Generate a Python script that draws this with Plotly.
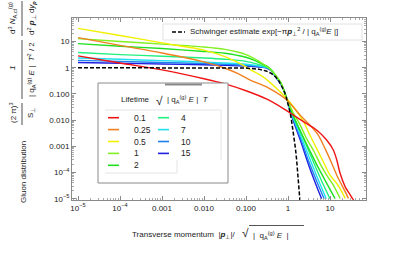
import plotly.graph_objects as go

# ---------------- data ----------------
lifetimes = ["0.1", "0.25", "0.5", "1", "2", "4", "7", "10", "15"]
colors = ["#f01414", "#f08020", "#f0f000", "#80f020", "#20e020",
          "#20f080", "#20e0f0", "#2080f0", "#2020e0"]

x_t01 = [1e-5, 1e-4, 1e-3, 1e-2, 0.0316, 0.1, 0.316, 0.794, 1.35, 2.34, 4.79, 8.32, 12.0, 14.5, 17.4, 22.9, 30.2, 36.3]
y_t01 = [2.82, 1.51, 0.83, 0.38, 0.24, 0.132, 0.063, 0.027, 0.0155, 0.0087, 0.0042, 0.00174, 7.2e-4, 3.0e-4, 9.3e-5, 2.9e-5, 1.4e-5, 8.9e-6]

x_t025 = [1e-5, 1e-4, 1e-3, 1e-2, 0.0316, 0.063, 0.126, 0.316, 0.646, 0.933, 1.95, 3.31, 5.25, 7.59, 11.0, 14.5, 19.1, 22.9, 27.5]
y_t025 = [14.1, 7.08, 3.63, 1.66, 0.955, 0.603, 0.339, 0.182, 0.0912, 0.0589, 0.0155, 0.00646, 0.00269, 8.3e-4, 2.24e-4, 7.9e-5, 3.3e-5, 1.86e-5, 1.02e-5]

x_t05 = [1e-5, 1e-4, 1e-3, 1e-2, 0.0316, 0.063, 0.1, 0.126, 0.251, 0.537, 0.851, 1.35, 2.34, 3.31, 4.79, 6.92, 10.0, 14.5, 19.1, 22.9]
y_t05 = [31.6, 17.0, 8.9, 4.68, 2.63, 1.58, 1.07, 0.85, 0.457, 0.162, 0.0776, 0.0324, 0.0087, 0.00269, 8.3e-4, 2.57e-4, 7.9e-5, 3.8e-5, 1.86e-5, 1.02e-5]

x_t1 = [1e-5, 1e-4, 1e-3, 1e-2, 0.0316, 0.063, 0.1, 0.158, 0.251, 0.355, 0.5, 0.708, 0.933, 1.35, 1.95, 2.75, 3.98, 5.75, 8.32, 12.0, 17.4]
y_t1 = [12.9, 10.0, 7.94, 6.17, 5.01, 3.98, 3.16, 2.24, 1.41, 0.955, 0.525, 0.229, 0.0676, 0.0182, 0.00646, 0.0020, 7.2e-4, 2.24e-4, 7.9e-5, 3.3e-5, 1.02e-5]

x_t2 = [1e-5, 1e-4, 1e-3, 1e-2, 0.0316, 0.063, 0.1, 0.158, 0.251, 0.355, 0.5, 0.708, 0.933, 1.35, 2.0, 3.16, 5.01, 7.94, 13.2]
y_t2 = [8.32, 6.61, 5.37, 4.17, 3.55, 2.95, 2.51, 1.91, 1.35, 1.0, 0.525, 0.229, 0.0676, 0.0141, 0.00355, 7.9e-4, 1.78e-4, 4.5e-5, 1.0e-5]

x_t4 = [1e-5, 1e-4, 1e-3, 1e-2, 0.0316, 0.1, 0.2, 0.316, 0.398, 0.5, 0.708, 0.933, 1.26, 2.0, 3.16, 5.01, 7.08, 10.0]
y_t4 = [3.8, 3.16, 2.75, 2.34, 2.09, 1.74, 1.32, 1.05, 0.83, 0.50, 0.219, 0.0676, 0.0178, 0.00355, 6.3e-4, 1.12e-4, 3.2e-5, 1.0e-5]

x_t7 = [1e-5, 1e-4, 1e-3, 1e-2, 0.0316, 0.1, 0.2, 0.316, 0.398, 0.5, 0.708, 0.933, 1.26, 2.0, 3.16, 5.01, 8.13]
y_t7 = [2.34, 2.09, 1.86, 1.66, 1.51, 1.35, 1.17, 1.0, 0.794, 0.479, 0.214, 0.0676, 0.0158, 0.00251, 4.0e-4, 6.3e-5, 1.0e-5]

x_t10 = [1e-5, 1e-4, 1e-3, 1e-2, 0.0316, 0.1, 0.2, 0.316, 0.398, 0.5, 0.708, 0.933, 1.26, 2.0, 3.16, 5.01, 7.24]
y_t10 = [1.91, 1.74, 1.58, 1.45, 1.35, 1.23, 1.12, 0.977, 0.794, 0.468, 0.209, 0.0676, 0.0141, 0.0020, 2.5e-4, 4.0e-5, 1.0e-5]

x_t15 = [1e-5, 1e-4, 1e-3, 1e-2, 0.0316, 0.1, 0.2, 0.316, 0.398, 0.5, 0.708, 0.933, 1.26, 2.0, 3.16, 5.01, 6.31]
y_t15 = [1.58, 1.48, 1.38, 1.29, 1.23, 1.15, 1.07, 0.955, 0.759, 0.457, 0.204, 0.0661, 0.0126, 0.00158, 1.78e-4, 2.5e-5, 1.0e-5]

x_schw = [1e-5, 1e-3, 0.01, 0.1, 0.2, 0.3, 0.4, 0.5, 0.6, 0.7, 0.8, 0.9, 1.0, 1.1, 1.2, 1.3, 1.4, 1.5, 1.6, 1.7, 1.8, 1.87, 1.95]
y_schw = [1.0, 1.0, 1.0, 0.969, 0.882, 0.754, 0.605, 0.456, 0.323, 0.215, 0.134, 0.0786, 0.0432, 0.0223, 0.0109, 0.00495, 0.0021, 8.5e-4, 3.2e-4, 1.1e-4, 3.8e-5, 1.7e-5, 6.5e-6]

tick_vals = [1e-5, 1e-4, 1e-3, 1e-2, 1e-1, 1, 10]
tick_text = ["10<sup>\u22125</sup>", "10<sup>\u22124</sup>", "0.001", "0.010", "0.100", "1", "10"]

series_x = [x_t01, x_t025, x_t05, x_t1, x_t2, x_t4, x_t7, x_t10, x_t15]
series_y = [y_t01, y_t025, y_t05, y_t1, y_t2, y_t4, y_t7, y_t10, y_t15]

# ---------------- figure ----------------
W, H = 411, 254
L, R, T, B = 72, 366, 18, 200
FONT = "Liberation Sans, Arial, sans-serif"
TXT = "#222222"
FRAME = "#8a8a8a"
FS = 8


def px(x):
    return (x - L) / (R - L)


def py(y):
    return (B - y) / (B - T)


fig = go.Figure()
for i in range(len(lifetimes) - 1, -1, -1):
    fig.add_trace(go.Scatter(
        x=series_x[i], y=series_y[i], mode="lines",
        line=dict(color=colors[i], width=1.4, shape="spline", smoothing=0.8),
        showlegend=False, hoverinfo="skip"))
fig.add_trace(go.Scatter(
    x=x_schw, y=y_schw, mode="lines",
    line=dict(color="black", width=1.5, dash="4px,2px"),
    showlegend=False, hoverinfo="skip"))

minor_vals = [m * 10 ** e for e in range(-6, 3) for m in range(2, 10)]
axis_common = dict(
    type="log", showgrid=False, zeroline=False,
    showline=True, linecolor=FRAME, linewidth=1, mirror="allticks",
    ticks="inside", ticklen=4, tickwidth=1, tickcolor=FRAME,
    tickmode="array", tickvals=tick_vals, ticktext=tick_text,
    tickfont=dict(family=FONT, size=8, color=TXT),
    minor=dict(ticks="inside", ticklen=2, tickcolor="#aaaaaa", tickmode="array", tickvals=minor_vals),
)
fig.update_layout(
    width=W, height=H, autosize=False,
    margin=dict(l=L, r=W - R, t=T, b=H - B, pad=0),
    paper_bgcolor="white", plot_bgcolor="white",
    xaxis=dict(range=[-5.143, 1.857], automargin=False, **axis_common),
    yaxis=dict(range=[-5.05, 1.897], automargin=False, **axis_common),
    font=dict(family=FONT, color=TXT),
)

shapes = []
anns = []


def text(x, y, s, size=FS, angle=0, xa="left", ya="middle"):
    anns.append(dict(x=px(x), y=py(y), xref="paper", yref="paper", text=s,
                     showarrow=False, textangle=angle, xanchor=xa, yanchor=ya,
                     borderpad=0,
                     font=dict(family=FONT, size=size, color=TXT)))


def line(x0, y0, x1, y1, color, width=1, dash=None):
    d = dict(type="line", xref="paper", yref="paper", x0=px(x0), y0=py(y0),
             x1=px(x1), y1=py(y1), line=dict(color=color, width=width))
    if dash:
        d["line"]["dash"] = dash
    shapes.append(d)


# Schwinger legend box
shapes.append(dict(type="rect", xref="paper", yref="paper", x0=px(163), x1=px(362),
                   y0=py(40), y1=py(24), fillcolor="white", line=dict(color="#e2e2e2", width=1)))
line(172, 32, 185, 32, "black", 1.5, "4px,2px")
text(189, 32, "Schwinger estimate exp[\u2212\u03c0<b><i>p</i></b><sub>\u22a5</sub><sup>2</sup> / | q<sub>A</sub><sup>(g)</sup><i>E</i> |]")

# Lifetime legend box
shapes.append(dict(type="rect", xref="paper", yref="paper", x0=px(98), x1=px(228),
                   y0=py(183), y1=py(83), fillcolor="white", line=dict(color="#8a8a8a", width=1)))
shapes.append(dict(type="path", xref="paper", yref="paper",
                   path=f"M {px(105)},{py(110)} L {px(221)},{py(110)} L {px(221)},{py(160)} "
                        f"M {px(177)},{py(160)} L {px(177)},{py(173)} L {px(105)},{py(173)}",
                   line=dict(color="#e4e4e4", width=1)))
line(165, 84.5, 202, 84.5, "#8a8a8a", 2)
text(120, 99, "Lifetime")
text(155, 101, "\u221a", size=12)
text(166, 99, "| q<sub>A</sub><sup>(g)</sup> <i>E</i> |  <i>T</i>")

rows = [117.7, 129.6, 141.5, 153.4, 165.3]
for i, lab in enumerate(lifetimes):
    if i < 5:
        lx, tx, ry = 108, 133, rows[i]
    else:
        lx, tx, ry = 158, 180, rows[i - 5]
    line(lx, ry, lx + 11, ry, colors[i], 1.6)
    text(tx, ry, lab, size=8.5)

# x-axis title
text(131, 235, "Transverse momentum  |<b><i>p</i></b><sub>\u22a5</sub>|/")
text(241, 233, "\u221a", size=12)
text(252, 235, "|  q<sub>A</sub><sup>(g)</sup> <i>E</i>  |")
line(249, 225.5, 304, 225.5, "#555555", 1)

# y-axis title (rotated)
text(23, 172, "Gluon distribution", angle=-90, xa="center")
text(13, 113, "(2 \u03c0)<sup>3</sup>", angle=-90, xa="center")
text(31, 113, "S<sub>\u22a5</sub>", angle=-90, xa="center")
line(22, 103, 22, 125, TXT, 0.8)
text(12, 68, "<i>1</i>", angle=-90, xa="center")
text(31, 70, "| q<sub>A</sub><sup>(g)</sup> <i>E</i> |  <i>T</i><sup>2</sup> / 2", angle=-90, xa="center")
line(22, 40, 22, 99, TXT, 0.8)
text(12, 18, "d<sup>3</sup> <i>N</i><sub>A,cl</sub><sup>(g)</sup>", angle=-90, xa="center")
text(31, 18, "d<sup>2</sup> <b><i>p</i></b><sub>\u22a5</sub> d<i>y</i><sub><b><i>p</i></b></sub>", angle=-90, xa="center")
line(22, 1, 22, 36, TXT, 0.8)

fig.update_layout(shapes=shapes, annotations=anns)
fig.write_html("out.html", config={"displayModeBar": False},
               post_script="document.body.style.margin='0px';document.body.style.padding='0px';")
